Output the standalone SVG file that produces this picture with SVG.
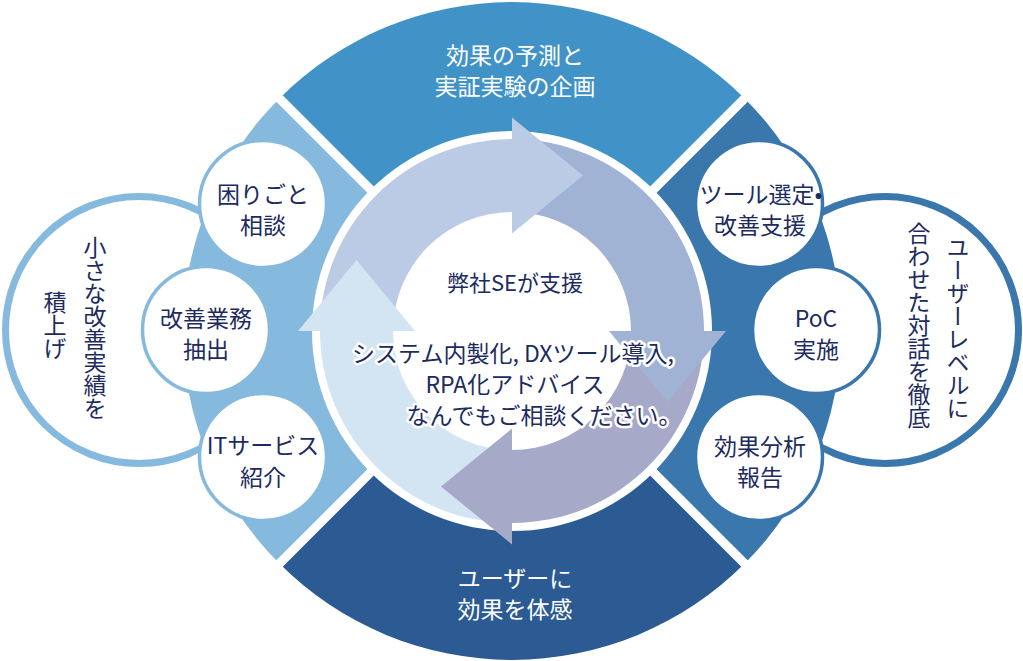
<svg xmlns="http://www.w3.org/2000/svg" width="1023" height="661" viewBox="0 0 1023 661">
<style>
.t{font-family:"Noto Sans CJK JP","Noto Sans",sans-serif;font-size:23px;fill:#1d2b5f}
.w{fill:#ffffff}
.m{text-anchor:middle}
.v{writing-mode:vertical-rl}
.h{stroke:#ffffff;stroke-width:5px;stroke-linejoin:round;paint-order:stroke}
.sc{fill:#ffffff;stroke-width:3.5}
.big{fill:#ffffff;stroke-width:7}
</style>
<rect width="1023" height="661" fill="#ffffff"/>
<!-- side circles -->
<g id="left-outer">
<circle class="big" cx="139" cy="330" r="133.5" stroke="#86b9de"/>
</g>
<g id="right-outer">
<circle class="big" cx="885" cy="330" r="133.5" stroke="#3977ad"/>
</g>
<!-- segments -->
<g id="seg-top"><path d="M512 331 L279.4 98.4 A329 329 0 0 1 744.6 98.4 Z" fill="#4193c7"/></g>
<g id="seg-right"><path d="M512 331 L744.6 98.4 A329 329 0 0 1 744.6 563.6 Z" fill="#3977ad"/></g>
<g id="seg-bottom"><path d="M512 331 L744.6 563.6 A329 329 0 0 1 279.4 563.6 Z" fill="#2c5a93"/></g>
<g id="seg-left"><path d="M512 331 L279.4 563.6 A329 329 0 0 1 279.4 98.4 Z" fill="#86b9de"/></g>
<g id="gaps" stroke="#ffffff" stroke-width="9">
<line x1="277" y1="96" x2="747" y2="566"/>
<line x1="747" y1="96" x2="277" y2="566"/>
</g>
<circle cx="512" cy="331" r="200" fill="#ffffff"/>
<!-- cycle arrows -->
<g id="connectors">
<path d="M320 331 A192 192 0 0 1 512 139 L512 212 A119 119 0 0 0 393 331 Z" fill="#bccbe5"/>
<path d="M512 139 A192 192 0 0 1 704 331 L631 331 A119 119 0 0 0 512 212 Z" fill="#a1b3d5"/>
<path d="M704 331 A192 192 0 0 1 512 523 L512 450 A119 119 0 0 0 631 331 Z" fill="#a6a9c8"/>
<path d="M512 523 A192 192 0 0 1 320 331 L393 331 A119 119 0 0 0 512 450 Z" fill="#d3e4f3"/>
<path d="M512 117.5 L583 175.5 L512 233.5 Z" fill="#bccbe5"/>
<path d="M726 331 L667.5 402 L609 331 Z" fill="#a1b3d5"/>
<path d="M512 544.5 L441 486.5 L512 428.5 Z" fill="#a6a9c8"/>
<path d="M298 331 L356.5 260 L415 331 Z" fill="#d3e4f3"/>
</g>
<!-- small circles -->
<g id="n-komarigoto">
<circle class="sc" cx="263" cy="204" r="63.5" stroke="#86b9de"/>
<text class="t m" x="263" y="203">困りごと</text>
<text class="t m" x="263" y="234">相談</text>
</g>
<g id="n-kaizen">
<circle class="sc" cx="206" cy="330" r="63.5" stroke="#86b9de"/>
<text class="t m" x="206" y="327">改善業務</text>
<text class="t m" x="206" y="358">抽出</text>
</g>
<g id="n-it">
<circle class="sc" cx="263" cy="457" r="63.5" stroke="#86b9de"/>
<text class="t m" x="263" y="454">ITサービス</text>
<text class="t m" x="263" y="486">紹介</text>
</g>
<g id="n-tool">
<circle class="sc" cx="759" cy="204" r="63.5" stroke="#3977ad"/>
<text class="t m" x="761" y="203">ツール選定•</text>
<text class="t m" x="760" y="234">改善支援</text>
</g>
<g id="n-poc">
<circle class="sc" cx="816" cy="330" r="63.5" stroke="#3977ad"/>
<text class="t m" x="816" y="327">PoC</text>
<text class="t m" x="816" y="358">実施</text>
</g>
<g id="n-kouka">
<circle class="sc" cx="759" cy="457" r="63.5" stroke="#3977ad"/>
<text class="t m" x="760" y="455">効果分析</text>
<text class="t m" x="760" y="486">報告</text>
</g>
<!-- segment labels -->
<g id="lbl-top">
<text class="t w m" x="515" y="64">効果の予測と</text>
<text class="t w m" x="515" y="95">実証実験の企画</text>
</g>
<g id="lbl-bottom">
<text class="t w m" x="515" y="587">ユーザーに</text>
<text class="t w m" x="515" y="618">効果を体感</text>
</g>
<!-- side circle texts -->
<g id="lbl-left">
<text class="t v" x="95" y="236">小さな改善実績を</text>
<text class="t v" x="55" y="291">積上げ</text>
</g>
<g id="lbl-right">
<text class="t v" x="958" y="236">ユーザーレベルに</text>
<text class="t v" x="919" y="222">合わせた対話を徹底</text>
</g>
<!-- center -->
<g id="center">
<text class="t m" x="515" y="291" style="font-size:22px">弊社SEが支援</text>
<text class="t m h" x="513" y="362">システム内製化, DXツール導入,</text>
<text class="t m h" x="515" y="393">RPA化アドバイス</text>
<text class="t m h" x="544" y="424">なんでもご相談ください。</text>
</g>
</svg>
